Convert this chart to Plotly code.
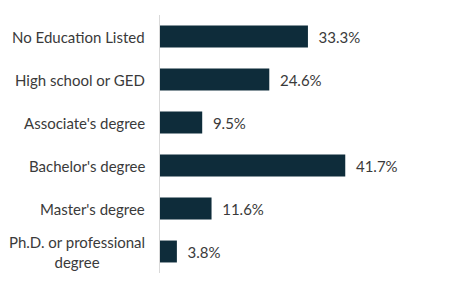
import plotly.graph_objects as go

categories = ["No Education Listed", "High school or GED", "Associate's degree",
              "Bachelor's degree", "Master's degree", "Ph.D. or professional<br>degree"]
values = [33.3, 24.6, 9.5, 41.7, 11.6, 3.8]
value_labels = ["33.3%", "24.6%", "9.5%", "41.7%", "11.6%", "3.8%"]

BAR = "#0e2c3a"
TXT = "#3a3a3a"
FONT = "Lato"

fig = go.Figure()
fig.add_trace(go.Bar(
    y=categories, x=values, orientation="h",
    marker=dict(color=BAR, line=dict(width=0)),
    text=["  " + t for t in value_labels], textposition="outside",
    textfont=dict(family=FONT, size=15, color=TXT),
    cliponaxis=False, width=0.51,
))

for c in categories:
    fig.add_annotation(x=0, xref="paper", y=c, yref="y", text=c,
                       xanchor="right", align="center", xshift=-13,
                       showarrow=False,
                       font=dict(family=FONT, size=15, color=TXT))

fig.update_layout(
    width=455, height=290,
    margin=dict(l=160, r=0, t=15, b=17),
    plot_bgcolor="white", paper_bgcolor="white",
    showlegend=False,
    xaxis=dict(range=[0, 66.4], visible=False),
    yaxis=dict(autorange="reversed", showticklabels=False, showline=True,
               linecolor="#d9d9d9", linewidth=1, ticks="", showgrid=False,
               zeroline=False),
)

fig.write_html("out.html")
